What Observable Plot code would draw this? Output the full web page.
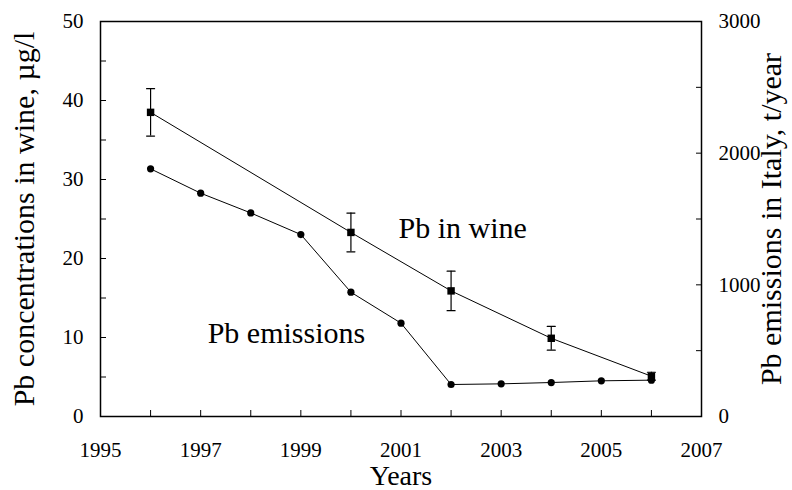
<!DOCTYPE html>
<html><head><meta charset="utf-8">
<script src="https://cdn.jsdelivr.net/npm/d3@7"></script>
<script src="https://cdn.jsdelivr.net/npm/@observablehq/plot@0.6"></script>
<style>body{margin:0;background:#fff} svg, svg text{font-family:"Liberation Serif",serif}</style>
</head><body><div id="chart"></div><script>
// Pb emissions in Italy (t/year)
const emYears = [1996,1997,1998,1999,2000,2001,2002,2003,2004,2005,2006];
const emissions = [1881,1696,1546,1382,944,709,243,248,258,271,276];
// Pb in wine (µg/l) with error
const wineYears = [1996,2000,2002,2004,2006];
const wineConc = [38.5,23.3,15.9,9.9,5.1];
const wineErr = [3.0,2.45,2.5,1.5,0.5];
// ticks
const xTickLabels = [1995,1997,1999,2001,2003,2005,2007];
const leftTickLabels = [0,10,20,30,40,50];
const rightTickLabels = [0,1000,2000,3000];
const labels = ["Pb in wine","Pb emissions"];

const K = 3000/50; // right axis units per left axis unit
const em = emYears.map((y,i)=>({year:y, t:emissions[i]}));
const wine = wineYears.map((y,i)=>({year:y, v:wineConc[i], e:wineErr[i]}));
const cap = {draw(ctx,l){ctx.moveTo(0,0); ctx.lineTo(0,-l);}};
const FF = '"Liberation Serif", serif';

const plot = Plot.plot({
  width: 792, height: 490,
  marginLeft: 100, marginRight: 91, marginTop: 21, marginBottom: 74,
  style: {fontFamily: FF, fontSize: "21px", color: "black", background: "white"},
  x: {domain: [1995, 2007], label: null},
  y: {domain: [0, 50], label: null},
  marks: [
    Plot.frame({stroke: "black", strokeWidth: 1.5}),
    Plot.axisX(d3.range(1995, 2008, 1), {tickSize: -6, tickFormat: () => "", label: null}),
    Plot.axisY(d3.range(0, 51, 5), {anchor: "left", tickSize: -6, tickFormat: () => "", label: null}),
    Plot.axisY(d3.range(0, 3001, 500).map(v => v / K), {anchor: "right", tickSize: -6, tickFormat: () => "", label: null}),
    // tick labels
    Plot.text(xTickLabels, {x: d => d, frameAnchor: "bottom", dy: 34, text: d => String(d), textAnchor: "middle", lineAnchor: "middle", fontSize: 21, fontFamily: FF, fill: "black"}),
    Plot.text(leftTickLabels, {y: d => d, frameAnchor: "left", dx: -17, text: d => String(d), textAnchor: "end", lineAnchor: "middle", fontSize: 21, fontFamily: FF, fill: "black"}),
    Plot.text(rightTickLabels, {y: d => d / K, frameAnchor: "right", dx: 17, text: d => String(d), textAnchor: "start", lineAnchor: "middle", fontSize: 21, fontFamily: FF, fill: "black"}),
    // emissions
    Plot.line(em, {x: "year", y: d => d.t / K, stroke: "black", strokeWidth: 1}),
    Plot.dot(em, {x: "year", y: d => d.t / K, r: 3.6, fill: "black", stroke: "none"}),
    // wine
    Plot.line(wine, {x: "year", y: "v", stroke: "black", strokeWidth: 1}),
    Plot.ruleX(wine, {x: "year", y1: d => d.v - d.e, y2: d => d.v + d.e, stroke: "black", strokeWidth: 1.2}),
    Plot.vector(wine, {x: "year", y: d => d.v + d.e, length: 8, rotate: 90, anchor: "middle", shape: cap, stroke: "black", strokeWidth: 1.2}),
    Plot.vector(wine, {x: "year", y: d => d.v - d.e, length: 8, rotate: 90, anchor: "middle", shape: cap, stroke: "black", strokeWidth: 1.2}),
    Plot.dot(wine, {x: "year", y: "v", symbol: "square", r: 4.2, fill: "black", stroke: "none"}),
    // annotations
    Plot.text([labels[0]], {x: 2000.95, y: 23.8, text: d => d, textAnchor: "start", lineAnchor: "middle", fontSize: 30, fontFamily: FF, fill: "black"}),
    Plot.text([labels[1]], {x: 1997.14, y: 10.5, text: d => d, textAnchor: "start", lineAnchor: "middle", fontSize: 30, fontFamily: FF, fill: "black"}),
    // axis titles
    Plot.text(["Years"], {frameAnchor: "bottom", dy: 60, text: d => d, textAnchor: "middle", lineAnchor: "middle", fontSize: 28, fontFamily: FF, fill: "black"}),
    Plot.text(["Pb concentrations in wine, µg/l"], {frameAnchor: "left", dx: -76, text: d => d, rotate: -90, textAnchor: "middle", lineAnchor: "middle", fontSize: 30, fontFamily: FF, fill: "black"}),
    Plot.text(["Pb emissions in Italy, t/year"], {frameAnchor: "right", dx: 70, text: d => d, rotate: -90, textAnchor: "middle", lineAnchor: "middle", fontSize: 30, fontFamily: FF, fill: "black"})
  ]
});
document.getElementById("chart").appendChild(plot);
</script></body></html>
